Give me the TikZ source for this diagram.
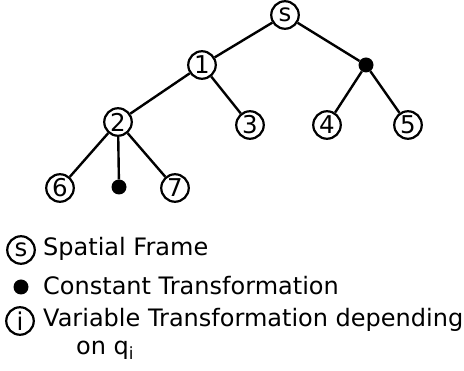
\documentclass[tikz,border=0pt]{standalone}
\usepackage{fontspec}
\setmainfont{DejaVu Sans}
\begin{document}
\begin{tikzpicture}[x=1pt,y=-1pt,
  frame/.style={circle,draw,line width=2.2pt,minimum size=27.5pt,inner sep=0pt,
    font=\fontsize{24.5}{24.5}\selectfont},
  fixed/.style={circle,fill,minimum size=15pt,inner sep=0pt},
  link/.style={line width=2.4pt},
  legend/.style={anchor=base west,inner sep=0pt,font=\fontsize{24}{28}\selectfont}]
\useasboundingbox (0,0) rectangle (464,371);

% kinematic tree
\node[frame] (s) at (285,15) {s};
\node[frame] (n1) at (202,65) {1};
\node[fixed] (c1) at (366,65) {};
\node[frame] (n2) at (118,122) {2};
\node[frame] (n3) at (250,125) {3};
\node[frame] (n4) at (327,125) {4};
\node[frame] (n5) at (408,125) {5};
\node[frame] (n6) at (60,188) {6};
\node[fixed] (c2) at (119,187) {};
\node[frame] (n7) at (175,188) {7};

\draw[link] (s) -- (n1);
\draw[link] (s) -- (c1);
\draw[link] (n1) -- (n2);
\draw[link] (n1) -- (n3);
\draw[link] (c1) -- (n4);
\draw[link] (c1) -- (n5);
\draw[link] (n2) -- (n6);
\draw[link] (n2) -- (c2);
\draw[link] (n2) -- (n7);

% legend
\node[frame] (ks) at (21,250) {s};
\node[legend] (ts) at (43,256) {Spatial Frame};
\node[fixed] (kc) at (21,287) {};
\node[legend] (tc) at (43,295) {Constant Transformation};
\node[frame] (ki) at (20,321) {i};
\node[legend] (tv) at (43,327) {Variable Transformation depending};
\node[legend] (tq) at (76,355) {on q\textsubscript{i}};
\end{tikzpicture}
\end{document}
